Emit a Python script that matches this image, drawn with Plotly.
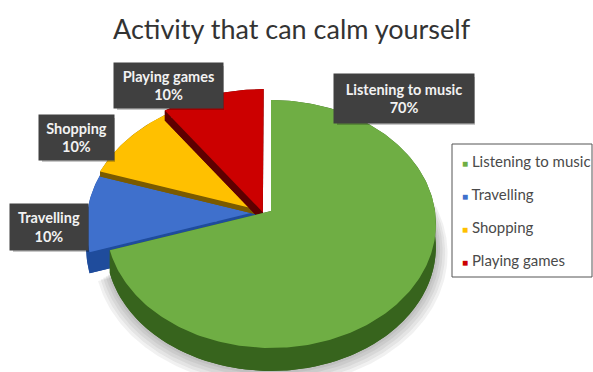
import numpy as np
import plotly.graph_objects as go

# Chart data
categories = ["Listening to music", "Travelling", "Shopping", "Playing games"]
shares = [70, 10, 10, 10]
title = "Activity that can calm yourself"

# Slice styling, in category order
face_colors = ["#6fae44", "#3f70cc", "#ffc000", "#cc0000"]
side_colors = ["#37641d", "#1f4c9c", "#7a5a00", "#5e0000"]
radius_scale = [1.0, 1.05, 1.05, 1.12]
offset_u = [0.0, -0.07, -0.08, -0.05]
offset_v = [0.0, 0.0, 0.01, -0.01]
depth = [23, 21, 5, 10]

# Perspective projection of the pie disc onto the plot area
CX, CY, RX, RY, TILT = 271, 211, 164, 122.6, 0.105


def project(u, v):
    w = 1 + TILT * v
    return CX + RX * u / w, CY - RY * v / w


def arc(start, end, scale, du, dv):
    a = np.radians(np.linspace(start, end, max(int(abs(end - start)), 2) + 1))
    return project(scale * np.sin(a) + du, scale * np.cos(a) + dv)


def slice_outline(start, end, scale, du, dv):
    x, y = arc(start, end, scale, du, dv)
    ax, ay = project(du, dv)
    return np.r_[ax, x, ax], np.r_[ay, y, ay]


def polygon(x, y, color):
    return go.Scatter(x=x, y=y, mode="lines", fill="toself", fillcolor=color,
                      line=dict(width=0), hoverinfo="skip", showlegend=False)


edges = np.cumsum([0] + shares) * 3.6
fig = go.Figure()

# Soft drop shadow beneath the large slice
for grow, drop in [(1.07, 28), (1.055, 27), (1.04, 26), (1.025, 25), (1.012, 24)]:
    x, y = slice_outline(55, edges[1], grow, 0, 0)
    fig.add_trace(polygon(x, y + drop, "rgba(60,60,60,0.07)"))

# Smaller slices first so the large slice overlaps them
for i in [1, 2, 3, 0]:
    start, end = edges[i], edges[i + 1]
    scale, du, dv, d = radius_scale[i], offset_u[i], offset_v[i], depth[i]
    x, y = slice_outline(start, end, scale, du, dv)
    ax, ay = arc(start, end, scale, du, dv)
    cx, cy = project(du, dv)
    # Extruded sides: the lowered copy, the rim, and both radial walls
    fig.add_trace(polygon(x, y + d, side_colors[i]))
    fig.add_trace(polygon(np.r_[ax, ax[::-1]], np.r_[ay, ay[::-1] + d], side_colors[i]))
    for ex, ey in [(ax[0], ay[0]), (ax[-1], ay[-1])]:
        fig.add_trace(polygon([cx, ex, ex, cx], [cy, ey, ey + d, cy + d], side_colors[i]))
    fig.add_trace(polygon(x, y, face_colors[i]))

# Data label boxes: left, top, right, bottom
label_boxes = [(335, 75, 473, 122), (11, 205, 87, 249), (40, 116, 113, 159), (115, 64, 222, 107)]
shapes = []
annotations = []
for name, share, (x0, y0, x1, y1) in zip(categories, shares, label_boxes):
    shapes.append(dict(type="rect", x0=x0 + 2, y0=y0 + 2, x1=x1 + 2, y1=y1 + 3,
                       fillcolor="rgba(0,0,0,0.22)", line_width=0, layer="above"))
    annotations.append(dict(
        x=(x0 + x1) / 2, y=(y0 + y1) / 2, xref="x", yref="y", showarrow=False,
        text=f"<b>{name}<br>{share}%</b>", width=x1 - x0, height=y1 - y0,
        bgcolor="#404040", align="center", valign="middle",
        font=dict(family="Lato", size=14.5, color="#f2f2f2"),
    ))

# Legend panel with its coloured keys
shapes.append(dict(type="rect", x0=452, y0=144, x1=592, y1=277,
                   fillcolor="rgba(0,0,0,0)", line=dict(color="#555555", width=1), layer="above"))
for name, color, row in zip(categories, face_colors, [161, 194, 227, 260]):
    annotations.append(dict(
        x=460, y=row, xref="x", yref="y", xanchor="left", showarrow=False,
        text=f'<span style="color:{color};font-size:10px">■</span> {name}',
        font=dict(family="Lato", size=15, color="#4a4a4a"),
    ))

annotations.append(dict(
    x=292, y=28, xref="x", yref="y", showarrow=False, text=title,
    font=dict(family="Lato", size=27, color="#333333"),
))

fig.update_layout(
    width=593, height=372, margin=dict(l=0, r=0, t=0, b=0),
    paper_bgcolor="#ffffff", plot_bgcolor="#ffffff", showlegend=False,
    xaxis=dict(range=[0, 593], visible=False, fixedrange=True),
    yaxis=dict(range=[372, 0], visible=False, fixedrange=True),
    shapes=shapes, annotations=annotations,
)

fig.write_html("out.html")
